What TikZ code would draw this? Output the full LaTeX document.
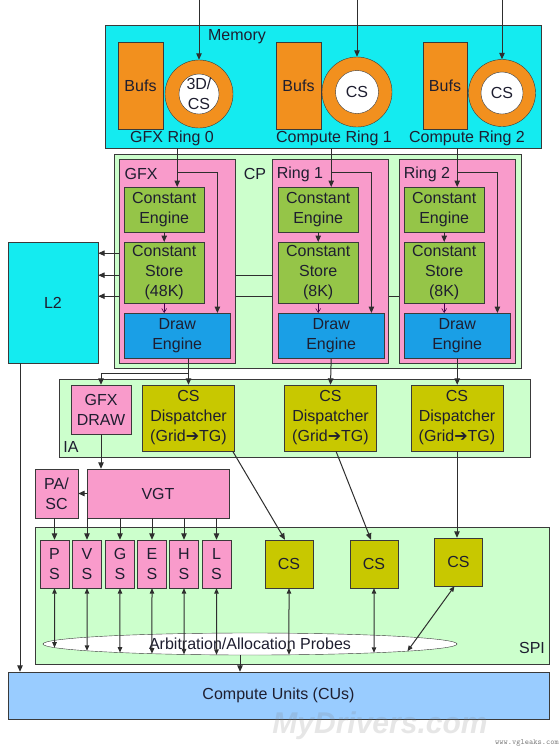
\documentclass[tikz,border=0pt]{standalone}
\usepackage{fontspec}
\setmainfont{Liberation Sans}
\newfontfamily\symfont{DejaVu Sans}
\usetikzlibrary{arrows.meta,shapes.geometric,intersections}
\definecolor{memcyan}{HTML}{14EBF0}
\definecolor{bufor}{HTML}{F2901E}
\definecolor{pinkc}{HTML}{F99BCB}
\definecolor{palegreen}{HTML}{CCFFCC}
\definecolor{cgreen}{HTML}{95C548}
\definecolor{dblue}{HTML}{1A9FE6}
\definecolor{olive}{HTML}{C8C800}
\definecolor{cublue}{HTML}{99CCFF}
\definecolor{edge}{HTML}{3A3A3A}
\definecolor{ink}{HTML}{1E1E30}
\pgfdeclarelayer{back}
\pgfdeclarelayer{mid}
\pgfsetlayers{back,mid,main}
\tikzset{>/.tip={Triangle[length=6.5pt,width=5.5pt]}}
\tikzset{
  txt/.style={font=\fontsize{16}{20}\selectfont, text=ink},
  blk/.style={txt, draw=edge, inner sep=0pt, align=center},
  lbl/.style={txt, inner sep=0pt, align=center},
  ring/.style={circle, draw=edge, fill=bufor, inner sep=0pt},
  core/.style={blk, circle, fill=white},
  cont/.style={draw=edge, fill=palegreen},
  wire/.style={draw=edge!80!black, line width=1pt},
  thinarr/.style={draw=violet!55!black, line width=0.6pt, -{Straight Barb[length=4pt,width=5pt]}},
  both/.style={wire, {Triangle[length=5.5pt,width=4.5pt]}-{Triangle[length=5.5pt,width=4.5pt]}}
}
\begin{document}
\begin{tikzpicture}[x=1pt,y=-1pt]
\useasboundingbox (0,0) rectangle (560,748);

% memory
\node[blk, fill=memcyan, minimum width=436, minimum height=123] (mem) at (323,86.5) {};
\node[lbl] (memlbl) at (237,37) {Memory};
\node[blk, fill=bufor, minimum width=45, minimum height=87] (bufs0) at (140.5,85.5) {Bufs};
\node[blk, fill=bufor, minimum width=45, minimum height=87] (bufs1) at (298.5,85.5) {Bufs};
\node[blk, fill=bufor, minimum width=44, minimum height=87] (bufs2) at (445,85.5) {Bufs};
\node[ring, minimum size=68] (ring0) at (199,94) {};
\node[core, minimum size=40] (core0) at (ring0) {};
\node[lbl] (core0txt) at (core0) {3D/\\CS};
\node[ring, minimum size=70] (ring1) at (357,92) {};
\node[core, minimum size=43] (core1) at (ring1) {CS};
\node[ring, minimum size=67] (ring2) at (502,93) {};
\node[core, minimum size=42] (core2) at (ring2) {CS};
\node[lbl] (rlbl0) at (172,138) {GFX Ring 0};
\node[lbl] (rlbl1) at (334,138) {Compute Ring 1};
\node[lbl] (rlbl2) at (467,138) {Compute Ring 2};
\coordinate (feed0) at (199,0);
\coordinate (feed1) at (357,0);
\coordinate (feed2) at (502,0);

% command processor
\begin{pgfonlayer}{back}
\draw[cont] (114,154) rectangle (521,368);
\end{pgfonlayer}
\draw[draw=edge, fill=pinkc] (119,159) rectangle (235,363);
\draw[draw=edge, fill=pinkc] (272,159) rectangle (388,363);
\draw[draw=edge, fill=pinkc] (399,159) rectangle (515,363);
\node[lbl] (gfxlbl) at (141,174) {GFX};
\node[lbl] (cplbl) at (255,174) {CP};
\node[lbl] (r1lbl) at (300,174) {Ring 1};
\node[lbl] (r2lbl) at (427,174) {Ring 2};
\foreach \i/\x/\kb in {0/124/48K,1/278/8K,2/404/8K} {
  \node[blk, fill=cgreen, minimum width=80, minimum height=45, anchor=north west] (ceng\i) at (\x,187) {Constant\\Engine};
  \node[blk, fill=cgreen, minimum width=80, minimum height=61, anchor=north west] (cst\i) at (\x,242) {Constant\\Store\\(\kb)};
  \node[blk, fill=dblue, minimum width=106, minimum height=45, anchor=north west] (deng\i) at (\x,313) {Draw\\Engine};
}

% L2
\node[blk, fill=memcyan, minimum width=90, minimum height=121] (l2) at (53,302.5) {L2};

% input assembler
\draw[cont] (59,379) rectangle (530,457);
\node[lbl] (ialbl) at (71,447) {IA};
\node[blk, fill=pinkc, minimum width=60, minimum height=49] (gfxdraw) at (101,409.5) {GFX\\DRAW};
\foreach \i/\x in {0/188.5,1/330.5,2/457}
  \node[blk, fill=olive, minimum width=92, minimum height=66] (disp\i) at (\x,418) {CS\\Dispatcher\\(Grid{\symfont ➔}TG)};

\node[blk, fill=pinkc, minimum width=43, minimum height=49] (pasc) at (56.5,493.5) {PA/\\SC};
\node[blk, fill=pinkc, minimum width=142, minimum height=49] (vgt) at (158,493.5) {VGT};

% shader pipe input
\draw[cont] (35,527) rectangle (549,664);
\node[lbl] (spilbl) at (532,648) {SPI};
\foreach \s/\x/\a/\b in {ps/54.5/P/S,vs/87/V/S,gs/120/G/S,es/152/E/S,hs/184/H/S,ls/216.5/L/S}
  \node[blk, fill=pinkc, minimum width=29, minimum height=48] (\s) at (\x,564) {\a\\\b};
\node[blk, fill=olive, minimum size=48] (spics0) at (289,564) {CS};
\node[blk, fill=olive, minimum size=48] (spics1) at (374,564) {CS};
\node[blk, fill=olive, minimum size=48] (spics2) at (458.5,562) {CS};
\node[ellipse, blk, fill=white, minimum width=414, minimum height=22] (probes) at (250,644) {Arbitration/Allocation Probes};
\path[name path=ellp] (probes.center) ellipse [x radius=207, y radius=11];

% compute units
\node[blk, fill=cublue, minimum width=541, minimum height=47] (cu) at (278.5,695.5) {Compute Units (CUs)};

% connectors
\foreach \i in {0,1,2} {
  \draw[wire,->] (feed\i) -- (ring\i.north);
  \draw[wire,->] (mem.south -| deng\i.north) -- (ceng\i.north -| deng\i.north);
  \draw[wire,->] (mem.south -| deng\i.north) ++(0,24) -| ([xshift=-13pt]deng\i.north east);
  \draw[wire,->] (ceng\i.south) -- (cst\i.north);
  \draw[thinarr] (cst\i.south) -- (cst\i.south |- deng\i.north);
}
\begin{pgfonlayer}{mid}
\draw[wire,->] ([yshift=19.5pt]cst0.west) -- ([yshift=19.5pt]cst0.west -| l2.east);
\draw[wire,->] ([yshift=-2.5pt]cst1.west) -- ([yshift=-2.5pt]cst1.west -| l2.east);
\draw[wire,->] ([yshift=-23.5pt]cst2.west) -- ([yshift=-23.5pt]cst2.west -| l2.east);
\end{pgfonlayer}
\draw[wire,->] (deng0.south -| disp0.north) -- (disp0.north);
\draw[wire,->] (deng0.south -| disp0.north) ++(0,15) -| (gfxdraw.north);
\draw[wire,->] (deng1.south) -- (disp1.north);
\draw[wire,->] (deng2.south) -- (deng2.south |- disp2.north);
\draw[wire,->] (gfxdraw.south) -- (gfxdraw.south |- vgt.north);
\draw[wire,->] (vgt.west) -- (pasc.east);
\draw[wire,->] (ps.north |- pasc.south) -- (ps.north);
\foreach \s in {vs,gs,es,hs,ls}
  \draw[wire,->] (\s.north |- vgt.south) -- (\s.north);
\draw[wire,->] ([xshift=-2pt]disp0.south east) -- ([xshift=-4pt]spics0.north);
\draw[wire,->] ([xshift=5.5pt]disp1.south) -- ([xshift=-3pt]spics1.north);
\draw[wire,->] (disp2.south) -- (disp2.south |- spics2.north);
\foreach \s in {ps,vs,gs,es,hs,ls,spics0,spics1} {
  \path[name path=drop] (\s.south) -- ++(0,70);
  \draw[both, name intersections={of=drop and ellp}] (\s.south) -- (intersection-1);
}
\path[name path=slant] ([xshift=-4pt]spics2.south) -- ++(-50,69);
\draw[both, name intersections={of=slant and ellp}] ([xshift=-4pt]spics2.south) -- (intersection-1);
\draw[wire,->] ([xshift=-33pt]l2.south) -- ([xshift=-33pt]l2.south |- cu.north);
\draw[wire,->] ([xshift=-10pt]probes.south) -- ([xshift=-10pt]probes.south |- cu.north);

% watermarks
\node[font=\bfseries\itshape\fontsize{30}{30}\selectfont, text=gray, opacity=0.2, inner sep=0pt] (wmark) at (380,726) {MyDrivers.com};
\node[font=\ttfamily\fontsize{8}{8}\selectfont, text=gray, anchor=east, inner sep=0pt] (vgl) at (559,743) {www.vgleaks.com};
\end{tikzpicture}
\end{document}
